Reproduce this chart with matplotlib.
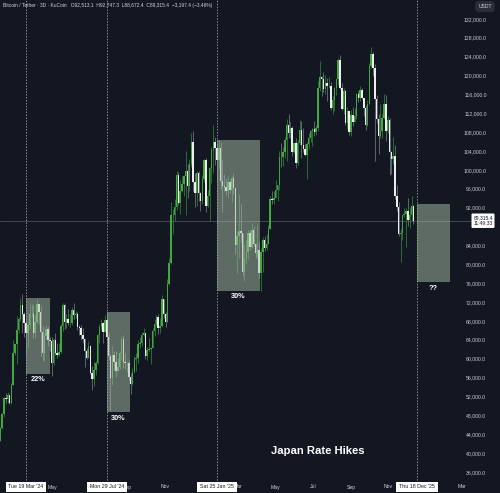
import numpy as np
import matplotlib
matplotlib.use("Agg")
import matplotlib.pyplot as plt
import matplotlib.dates as mdates
import matplotlib.transforms as mtransforms
from matplotlib.patches import Rectangle

plt.rcParams['font.family'] = ['Liberation Sans', 'DejaVu Sans']

# BTC/USDT 3D candles, KuCoin, prices in thousands USDT
first_start = np.datetime64('2024-02-06')
first_open = 42.6
closes = [
    45.3, 48.3, 51.8, 51.6, 52.3, 50.7, 54.5, 61.2, 63.1, 66.1,
    68.5, 71.5, 69.5, 67.6, 65.5, 67.2, 69.5, 69.6, 65.5, 67.8,
    71.6, 70.0, 65.7, 61.3, 64.9, 66.4, 64.0, 63.8, 59.1, 64.0,
    61.2, 60.8, 61.5, 67.0, 71.4, 67.9, 68.5, 67.6, 67.7, 70.5,
    69.3, 69.5, 66.8, 66.6, 65.0, 64.2, 61.8, 60.3, 62.8, 57.0,
    55.8, 57.7, 59.2, 65.0, 66.7, 67.6, 65.8, 68.3, 64.6, 60.7,
    56.0, 60.9, 59.4, 57.5, 58.4, 61.2, 64.2, 59.4, 59.1, 59.1,
    56.2, 54.8, 57.3, 60.0, 60.3, 63.2, 63.3, 65.2, 65.6, 60.6,
    62.0, 62.1, 62.4, 66.0, 67.4, 69.0, 66.6, 67.0, 72.7, 69.5,
    67.8, 75.9, 80.4, 90.5, 90.6, 92.3, 98.9, 93.0, 95.6, 97.2,
    98.8, 99.9, 96.7, 101.4, 106.0, 97.5, 95.2, 99.4, 95.2, 93.4,
    98.1, 102.1, 92.5, 94.5, 100.5, 104.4, 106.1, 104.7, 102.1, 104.7,
    97.7, 96.6, 96.5, 95.7, 97.5, 95.8, 98.3, 96.3, 84.2, 86.0,
    87.2, 86.7, 78.5, 81.1, 82.6, 86.8, 83.8, 87.4, 84.3, 82.5,
    83.1, 78.2, 82.6, 85.3, 83.6, 84.4, 87.5, 93.9, 93.8, 94.2,
    95.9, 96.8, 102.9, 102.8, 103.8, 106.5, 109.7, 107.8, 108.9, 103.9,
    105.8, 101.5, 105.7, 108.6, 105.4, 104.6, 103.3, 105.6, 106.9, 108.4,
    108.8, 108.2, 108.9, 117.5, 119.8, 119.3, 117.3, 118.5, 117.9, 117.9,
    113.3, 115.0, 117.5, 119.3, 123.3, 117.5, 112.9, 116.9, 110.1, 112.6,
    108.2, 111.7, 110.2, 111.5, 116.1, 115.4, 117.1, 115.3, 113.3, 109.7,
    114.0, 122.2, 124.7, 121.7, 115.2, 110.8, 107.2, 108.4, 111.0, 114.1,
    108.3, 110.6, 103.9, 102.3, 103.1, 94.5, 92.2, 86.6, 86.8, 90.5,
    90.8, 91.3, 89.4, 90.6, 92.5131, 89.3154,
]
highs = [
    45.6, 48.6, 52.0, 52.8, 53.0, 52.4, 54.9, 64.0, 63.2, 69.2,
    69.0, 72.9, 73.8, 69.9, 68.2, 67.6, 71.6, 71.6, 71.4, 69.3,
    72.8, 71.7, 71.2, 66.9, 65.5, 67.2, 67.1, 64.6, 64.7, 64.5,
    65.5, 63.4, 63.4, 67.4, 71.9, 71.9, 69.5, 70.6, 69.5, 71.0,
    71.8, 70.1, 70.0, 67.3, 67.2, 66.5, 64.5, 62.4, 63.8, 63.0,
    58.5, 59.4, 59.6, 65.4, 67.4, 68.4, 67.8, 69.4, 70.0, 65.6,
    61.1, 62.7, 61.8, 61.6, 60.3, 61.8, 64.9, 65.0, 61.2, 59.4,
    59.8, 57.0, 58.0, 60.6, 61.3, 64.1, 64.7, 65.8, 66.5, 65.6,
    62.5, 64.5, 62.6, 66.5, 68.4, 69.4, 69.5, 68.8, 73.6, 72.7,
    69.9, 76.9, 81.5, 93.3, 91.8, 94.0, 99.8, 99.6, 98.0, 98.7,
    99.0, 104.0, 101.4, 102.5, 107.8, 108.4, 99.5, 99.9, 99.9, 95.4,
    98.9, 102.5, 102.7, 95.8, 100.7, 105.0, 109.6, 107.1, 105.3, 106.4,
    106.0, 102.5, 99.2, 98.3, 98.8, 97.9, 98.8, 99.5, 96.5, 87.0,
    95.0, 92.8, 86.8, 84.3, 85.3, 87.4, 87.4, 88.8, 88.1, 84.6,
    88.5, 84.7, 83.5, 85.8, 86.1, 86.4, 88.5, 94.6, 95.7, 95.6,
    97.9, 96.9, 104.1, 105.8, 104.9, 107.1, 110.8, 111.9, 110.4, 109.3,
    106.0, 106.8, 106.5, 110.6, 110.4, 108.9, 105.6, 106.0, 108.0, 108.5,
    109.0, 110.5, 109.7, 118.9, 123.2, 120.0, 120.9, 120.2, 119.5, 119.8,
    118.8, 115.7, 117.7, 119.4, 123.7, 124.5, 118.6, 117.4, 117.0, 113.5,
    112.6, 112.7, 113.4, 113.3, 116.3, 116.7, 117.9, 117.4, 115.4, 113.8,
    114.8, 122.8, 126.2, 125.0, 122.5, 116.0, 112.0, 114.0, 111.9, 116.1,
    116.0, 111.5, 111.0, 104.0, 107.0, 105.3, 96.8, 93.2, 87.5, 90.5,
    92.0, 92.0, 94.1, 92.3, 94.6, 92.7473,
]
lows = [
    42.6, 45.2, 47.7, 50.6, 50.6, 50.5, 50.5, 54.4, 60.8, 59.0,
    65.6, 68.1, 65.6, 64.6, 60.8, 62.3, 66.4, 68.9, 64.5, 64.5,
    67.5, 67.5, 60.7, 59.7, 59.6, 64.3, 62.8, 61.8, 56.5, 58.8,
    60.9, 60.2, 60.7, 61.3, 65.9, 66.3, 66.6, 67.2, 66.7, 67.3,
    68.5, 68.8, 66.1, 65.1, 64.1, 63.4, 58.4, 60.0, 60.3, 56.8,
    53.5, 54.3, 56.6, 58.9, 63.3, 66.2, 63.5, 65.8, 64.5, 59.9,
    49.0, 54.6, 57.7, 56.1, 57.4, 57.9, 59.8, 58.1, 57.9, 57.2,
    55.6, 52.5, 54.6, 57.0, 57.5, 59.2, 62.4, 62.7, 64.9, 60.1,
    59.8, 61.8, 58.9, 62.4, 64.8, 67.1, 65.3, 65.5, 66.8, 68.8,
    66.8, 67.8, 75.6, 80.2, 86.6, 89.2, 91.5, 92.6, 90.8, 95.4,
    94.5, 90.5, 94.2, 95.6, 100.8, 95.6, 92.2, 92.4, 93.4, 91.3,
    92.8, 97.5, 91.2, 92.2, 89.3, 97.3, 99.5, 101.2, 97.8, 100.2,
    96.1, 91.2, 95.6, 94.7, 94.1, 95.2, 93.3, 94.9, 82.2, 78.3,
    81.4, 84.7, 77.5, 76.6, 80.2, 81.1, 83.2, 83.6, 83.9, 81.6,
    81.3, 77.2, 74.5, 78.5, 83.0, 83.1, 84.3, 87.5, 92.9, 92.9,
    94.2, 93.4, 95.8, 100.8, 100.9, 102.6, 102.0, 106.8, 106.8, 103.0,
    103.7, 100.4, 101.1, 105.3, 102.7, 103.9, 103.0, 98.2, 104.6, 106.1,
    105.1, 107.2, 107.4, 108.3, 116.9, 115.7, 116.5, 116.1, 114.7, 117.4,
    112.7, 111.9, 112.6, 115.9, 118.1, 117.2, 112.7, 112.0, 109.7, 108.7,
    107.4, 107.3, 109.3, 110.2, 110.9, 114.4, 114.7, 115.1, 111.5, 108.6,
    109.4, 113.9, 121.6, 119.9, 102.0, 110.0, 103.5, 106.8, 106.9, 110.8,
    106.3, 108.0, 98.9, 99.3, 101.4, 94.0, 91.3, 86.1, 80.6, 85.2,
    90.1, 83.8, 88.1, 87.7, 89.3, 88.6724,
]

last_price = 89315.4
# highlighted drawdown boxes: start, end, top, bottom (USDT), label
box_starts = ['2024-03-19', '2024-07-29', '2025-01-25', '2025-12-18']
box_ends = ['2024-04-28', '2024-09-05', '2025-04-06', '2026-02-10']
box_tops = [72900, 69950, 106500, 92900]
box_bottoms = [56900, 48700, 74500, 76300]
box_labels = ['22%', '30%', '30%', '??']

event_dates = ['2024-03-19', '2024-07-29', '2025-01-25', '2025-12-18']
event_labels = ["Tue 19 Mar '24", "Mon 29 Jul '24", "Sat 25 Jan '25", "Thu 18 Dec '25"]
month_dates = ['2024-05-01', '2024-09-01', '2024-11-01', '2025-03-01', '2025-05-01',
               '2025-07-01', '2025-09-01', '2025-11-01', '2026-03-01']
month_labels = ['May', 'Sep', 'Nov', 'Mar', 'May', 'Jul', 'Sep', 'Nov', 'Mar']
price_ticks = [132000, 128000, 124000, 120000, 116000, 112000, 108000, 104000, 100000,
               96000, 92000, 84000, 80000, 76000, 72000, 68000, 64000, 60000, 56000,
               52000, 48000, 44000, 40000, 36000]

BG = '#131722'
UP = '#43a840'
DOWN = '#eeeeee'

o = np.array([first_open] + closes[:-1]) * 1000
c = np.array(closes) * 1000
h = np.array(highs) * 1000
l = np.array(lows) * 1000
starts = first_start + np.arange(len(closes)) * np.timedelta64(3, 'D')
x = mdates.date2num(starts.astype('datetime64[D]').astype(object))
up = c >= o


def dnum(d):
    return mdates.date2num(np.datetime64(d).astype(object))


fig = plt.figure(figsize=(5, 4.93), dpi=100, facecolor=BG)
ax = fig.add_axes([0, 0, 1, 1])
ax.set_facecolor(BG)
ax.axis('off')

ref = dnum('2024-03-19')
ax.set_xlim(ref - 26 / 0.612, ref + 474 / 0.612)
ax.set_ylim(31613, 136090)

# candles
ax.vlines(x[up], l[up], h[up], color='#2f7a37', lw=0.6, zorder=2)
ax.vlines(x[~up], l[~up], h[~up], color='#6c707a', lw=0.6, zorder=2)
ax.bar(x[up], c[up] - o[up], bottom=o[up], width=2.4, color=UP, lw=0, zorder=3)
ax.bar(x[~up], o[~up] - c[~up], bottom=c[~up], width=2.4, color=DOWN, lw=0, zorder=3)

# current price line
ax.axhline(last_price, xmax=0.94, color='#4a4f5a', lw=0.6, zorder=1)

# event dashed lines
for d in event_dates:
    ax.axvline(dnum(d), ymin=0.02, color='#8a8d94', lw=0.7, ls=(0, (1.5, 1.5)), zorder=1)

# boxes
for s, e, t, b, lab in zip(box_starts, box_ends, box_tops, box_bottoms, box_labels):
    xs, xe = dnum(s), dnum(e)
    ax.add_patch(Rectangle((xs, b), xe - xs, t - b, fc='#a9bfa8', ec='none',
                           alpha=0.5, zorder=4))
    ax.text((xs + xe) / 2, b - 1250, lab, color='white', fontsize=5.3,
            fontweight='bold', ha='center', va='center', zorder=5)

ax.text(0.636, 0.085, 'Japan Rate Hikes', transform=ax.transAxes, color='white',
        fontsize=8.1, fontweight='bold', ha='center', va='center')

# price scale labels
yt = mtransforms.blended_transform_factory(ax.transAxes, ax.transData)
for v in price_ticks:
    ax.text(0.951, v, f'{v:,.1f}', transform=yt, color='#c9ccd3', fontsize=3.7,
            ha='center', va='center')
ax.text(0.966, last_price, f'{last_price:,.1f}\n11:49:33', transform=yt, color='#131722',
        fontsize=3.6, ha='center', va='center', linespacing=1.25, zorder=6,
        bbox=dict(boxstyle='round,pad=0.35,rounding_size=0.2', fc='white', ec='none'))
fig.text(0.97, 1 - 6.5 / 493, 'USDT', color='#d1d4dc', fontsize=3.6, ha='center',
         va='center', bbox=dict(boxstyle='round,pad=0.6', fc='#2a2e39', ec='none'))

# time axis labels
xt = mtransforms.blended_transform_factory(ax.transData, ax.transAxes)
for d, lab in zip(month_dates, month_labels):
    ax.text(dnum(d), 1 - 487 / 493, lab, transform=xt, color='#c9ccd3', fontsize=3.7,
            ha='center', va='center', zorder=6)
for d, lab in zip(event_dates, event_labels):
    ax.text(dnum(d), 1 - 487 / 493, lab, transform=xt, color='#131722', fontsize=3.8,
            ha='center', va='center', zorder=7,
            bbox=dict(boxstyle='square,pad=0.55', fc='white', ec='none'))

fig.text(0.006, 1 - 6 / 493,
         'Bitcoin / Tether \u00b7 3D \u00b7 KuCoin   O92,513.1  H92,747.3  L88,672.4  '
         'C89,315.4  \u22123,197.4 (\u22123.46%)',
         color='#d1d4dc', fontsize=3.5, ha='left', va='center')

fig.savefig('out.png', dpi=100, facecolor=BG)
